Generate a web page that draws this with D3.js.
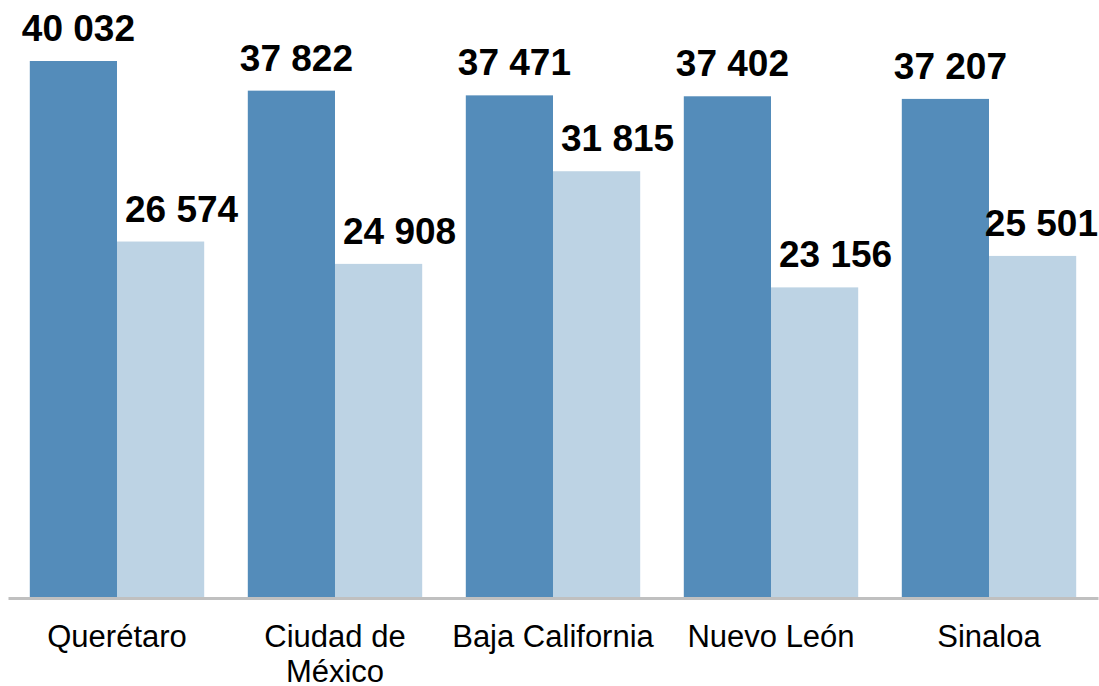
<!DOCTYPE html>
<html>
<head>
<meta charset="utf-8">
<script src="https://cdn.jsdelivr.net/npm/d3@7"></script>
<style>
  body { margin: 0; background: #fff; }
  text { font-family: Arial, "Liberation Sans", sans-serif; }
</style>
</head>
<body>
<div id="chart"></div>
<script>
var categories = ["Querétaro", "Ciudad de México", "Baja California", "Nuevo León", "Sinaloa"],
    seriesA = [40032, 37822, 37471, 37402, 37207],
    seriesB = [26574, 24908, 31815, 23156, 25501],
    colors = ["#548cba", "#bdd3e4"];

var width = 1099,
    height = 686,
    baseY = 598,
    yMax = 44580,
    labelDx = [5, 21];

var fmt = d3.formatLocale({ decimal: ".", thousands: " ", grouping: [3], currency: ["", ""] }).format(",d");

var svg = d3.select("#chart")
    .append("svg")
    .attr("width", width)
    .attr("height", height);

var x0 = d3.scaleBand()
    .domain(categories)
    .range([8, 1098])
    .paddingInner(0.2)
    .paddingOuter(0.1);

var x1 = d3.scaleBand()
    .domain([0, 1])
    .range([0, x0.bandwidth()]);

var y = d3.scaleLinear()
    .domain([0, yMax])
    .range([baseY, 0]);

var rows = categories.map(function (c, i) {
    return { cat: c, vals: [seriesA[i], seriesB[i]] };
});

var groups = svg.selectAll("g.grp")
    .data(rows)
    .enter()
    .append("g")
    .attr("class", "grp")
    .attr("transform", function (d) { return "translate(" + x0(d.cat) + ",0)"; });

var cells = groups.selectAll("g.cell")
    .data(function (d) { return d.vals; })
    .enter()
    .append("g");

cells.append("rect")
    .attr("x", function (d, i) { return x1(i); })
    .attr("y", function (d) { return y(d); })
    .attr("width", x1.bandwidth())
    .attr("height", function (d) { return baseY - y(d); })
    .style("fill", function (d, i) { return colors[i]; });

cells.append("text")
    .attr("x", function (d, i) { return x1(i) + x1.bandwidth() / 2 + labelDx[i]; })
    .attr("y", function (d) { return y(d) - 20; })
    .attr("text-anchor", "middle")
    .style("font-size", "37px")
    .style("font-weight", "bold")
    .style("fill", "#000")
    .text(function (d) { return fmt(d); })
    .each(function () {
        // keep labels inside the picture
        var b = this.getBBox(),
            m = this.getCTM(),
            right = b.x + b.width + m.e;
        if (right > width - 1) {
            d3.select(this).attr("x", +d3.select(this).attr("x") - (right - width + 1));
        }
    });

// x axis
var xAxis = d3.axisBottom(x0).tickSize(0).tickPadding(0);
var xGuide = svg.append("g")
    .attr("transform", "translate(0," + baseY + ")")
    .call(xAxis);

xGuide.select(".domain")
    .attr("stroke", "#c0c0c0")
    .attr("stroke-width", 3);

xGuide.selectAll(".tick text")
    .attr("y", 49)
    .attr("dy", 0)
    .style("font-size", "31px")
    .style("font-family", "Arial, 'Liberation Sans', sans-serif")
    .style("fill", "#000")
    .call(wrap, x0.step());

function wrap(sel, w) {
    sel.each(function () {
        var t = d3.select(this),
            words = t.text().split(/\s+/),
            line = [],
            lineNo = 0,
            ty = t.attr("y"),
            span = t.text(null).append("tspan").attr("x", 0).attr("y", ty);
        words.forEach(function (word) {
            line.push(word);
            span.text(line.join(" "));
            if (span.node().getComputedTextLength() > w && line.length > 1) {
                line.pop();
                span.text(line.join(" "));
                line = [word];
                lineNo++;
                span = t.append("tspan").attr("x", 0).attr("y", ty).attr("dy", lineNo * 35 + "px").text(word);
            }
        });
    });
}
</script>
</body>
</html>
